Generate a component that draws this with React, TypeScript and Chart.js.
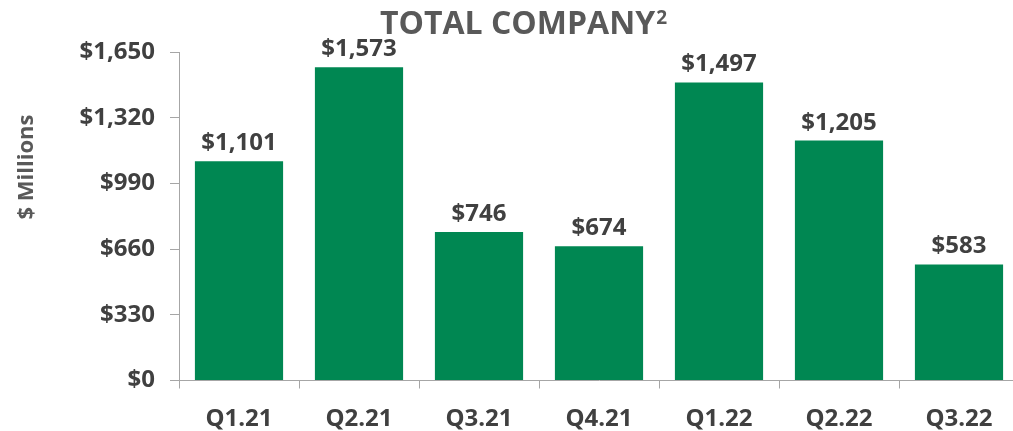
import React, { useEffect, useRef } from "react";
import { Chart, registerables } from "chart.js";

Chart.register(...registerables);

const categories = ["Q1.21", "Q2.21", "Q3.21", "Q4.21", "Q1.22", "Q2.22", "Q3.22"];
const values = [1101, 1573, 746, 674, 1497, 1205, 583];
const yTickMax = 1650;
const yTickStep = 330;
const titleMain = "TOTAL COMPANY";
const titleSup = "2";
const yAxisTitle = "$ Millions";

const FONT = "'Open Sans', 'Noto Sans', sans-serif";
const TEXT = "#404040";
const GREEN = "#008752";
const AXIS = "#A6A6A6";

const fmt = (v: number) => "$" + String(v).replace(/\B(?=(\d{3})+(?!\d))/g, ",");

const overlay = {
  id: "overlay",
  afterDraw(chart: any) {
    const ctx = chart.ctx;
    ctx.save();
    // title
    ctx.fillStyle = "#595959";
    ctx.font = `bold 32px ${FONT}`;
    ctx.textBaseline = "alphabetic";
    ctx.textAlign = "left";
    const mainW = ctx.measureText(titleMain).width;
    ctx.font = `bold 19px ${FONT}`;
    const supW = ctx.measureText(titleSup).width;
    const startX = 523 - (mainW + supW) / 2;
    ctx.font = `bold 32px ${FONT}`;
    ctx.fillText(titleMain, startX, 34);
    ctx.font = `bold 19px ${FONT}`;
    ctx.fillText(titleSup, startX + mainW + 1, 24);
    // y axis title
    ctx.save();
    ctx.translate(33, 167);
    ctx.rotate(-Math.PI / 2);
    ctx.font = `bold 22px ${FONT}`;
    ctx.textAlign = "center";
    ctx.fillStyle = "#595959";
    ctx.fillText(yAxisTitle, 0, 0);
    ctx.restore();
    // data labels
    const meta = chart.getDatasetMeta(0);
    ctx.font = `bold 24px ${FONT}`;
    ctx.fillStyle = TEXT;
    ctx.textAlign = "center";
    meta.data.forEach((bar: any, i: number) => {
      ctx.fillText(fmt(values[i]), bar.x, bar.y - 11);
    });
    ctx.restore();
  },
};

export default function App() {
  const ref = useRef<HTMLCanvasElement | null>(null);
  useEffect(() => {
    if (!ref.current) return;
    const chart = new Chart(ref.current, {
      type: "bar",
      data: {
        labels: categories,
        datasets: [
          {
            data: values,
            backgroundColor: GREEN,
            borderWidth: 0,
            categoryPercentage: 1,
            barPercentage: 0.735,
          },
        ],
      },
      options: {
        responsive: false,
        animation: false,
        layout: { padding: { top: 52, right: 11, left: 0, bottom: 0 } },
        plugins: {
          legend: { display: false },
          tooltip: { enabled: false },
          title: { display: false },
        },
        scales: {
          x: {
            grid: {
              display: true,
              drawOnChartArea: false,
              offset: true,
              tickLength: 8,
              color: AXIS,
              lineWidth: 1,
            },
            border: { display: true, color: AXIS, width: 1 },
            ticks: {
              color: TEXT,
              font: { family: FONT, size: 24, weight: "bold" },
              padding: 16,
              maxRotation: 0,
            },
            afterFit: (s: any) => {
              s.height = 50.5;
            },
          },
          y: {
            min: 0,
            max: yTickMax,
            grid: {
              display: true,
              drawOnChartArea: false,
              tickLength: 9,
              color: AXIS,
              lineWidth: 1,
            },
            border: { display: true, color: AXIS, width: 1 },
            ticks: {
              stepSize: yTickStep,
              color: TEXT,
              padding: 15,
              font: { family: FONT, size: 24, weight: "bold" },
              callback: (v: any) => fmt(Number(v)),
            },
            afterFit: (s: any) => {
              s.width = 179;
            },
          },
        },
      },
      plugins: [overlay],
    } as any);
    return () => chart.destroy();
  }, []);
  return (
    <div
      style={{
        position: "fixed",
        left: 0,
        top: 0,
        width: 1013,
        height: 431,
        overflow: "hidden",
        background: "#fff",
      }}
    >
      <canvas ref={ref} width={1030} height={431} style={{ display: "block", width: 1030, height: 431 }} />
    </div>
  );
}
